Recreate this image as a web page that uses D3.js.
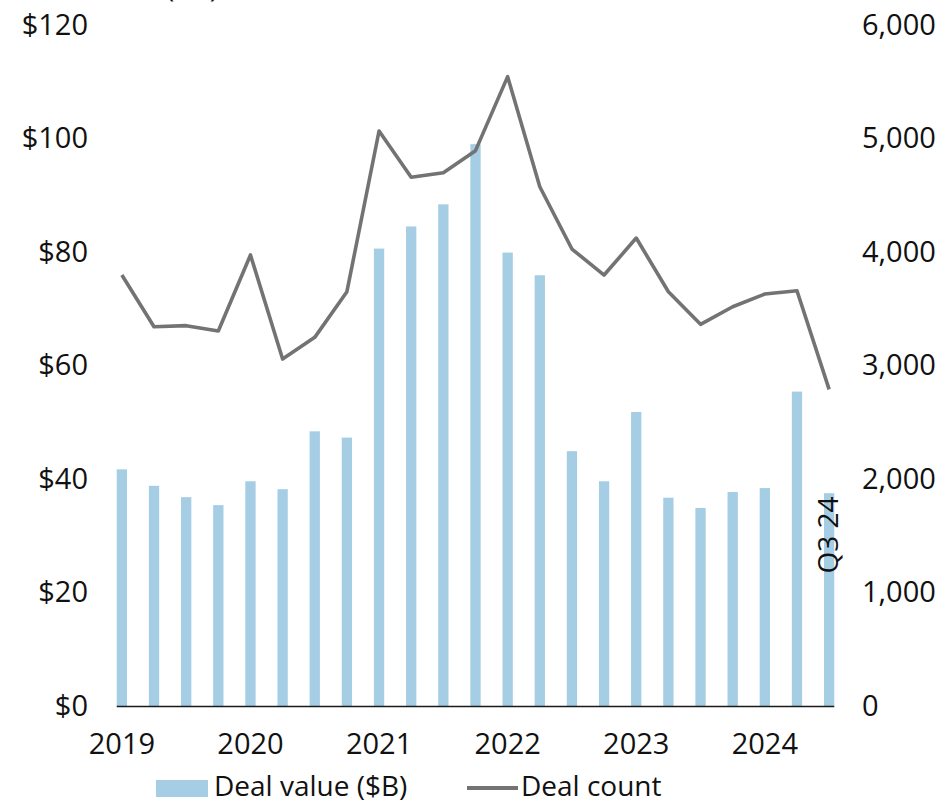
<!DOCTYPE html>
<html>
<head>
<meta charset="utf-8">
<script src="https://cdn.jsdelivr.net/npm/d3@7"></script>
<style>
  html, body { margin: 0; padding: 0; background: #fff; }
  svg { display: block; font-family: "Open Sans", "Noto Sans", sans-serif; }
</style>
</head>
<body>
<svg id="chart" width="947" height="803"></svg>
<script>
const quarters = ["2019Q1","2019Q2","2019Q3","2019Q4","2020Q1","2020Q2","2020Q3","2020Q4",
  "2021Q1","2021Q2","2021Q3","2021Q4","2022Q1","2022Q2","2022Q3","2022Q4",
  "2023Q1","2023Q2","2023Q3","2023Q4","2024Q1","2024Q2","2024Q3"];
const dealValue = [41.7, 38.8, 36.8, 35.4, 39.6, 38.2, 48.4, 47.3,
  80.6, 84.5, 88.4, 99.0, 79.9, 75.9, 44.9, 39.6,
  51.8, 36.7, 34.9, 37.7, 38.4, 55.4, 37.5];
const dealCount = [3797, 3342, 3351, 3304, 3974, 3057, 3248, 3650,
  5066, 4658, 4699, 4893, 5545, 4575, 4026, 3797,
  4123, 3650, 3363, 3518, 3630, 3659, 2790];
const leftTicks = [0, 20, 40, 60, 80, 100, 120];
const rightTicks = [0, 1000, 2000, 3000, 4000, 5000, 6000];
const yearTicks = ["2019Q1","2020Q1","2021Q1","2022Q1","2023Q1","2024Q1"];
const seriesNames = ["Deal value ($B)", "Deal count"];
const lastLabel = "Q3 24";

const svg = d3.select("#chart");
const barColor = "#a5cde4";
const lineColor = "#737373";
const textColor = "#111";
const fontSize = 29;

const x = d3.scaleBand().domain(quarters).range([105.8, 845.2])
  .paddingInner(0.68).paddingOuter(0.34);
const yL = d3.scaleLinear().domain([0, 120]).range([706, 25]);
const yR = d3.scaleLinear().domain([0, 6000]).range([706, 25]);

// cut-off title at top (only its lowest part shows, as in the reference)
svg.append("text").attr("x", 18).attr("y", -3)
  .attr("font-size", fontSize).attr("fill", textColor).text("Deal value ($B)");

// bars
svg.append("g").selectAll("rect").data(quarters).join("rect")
  .attr("x", d => x(d))
  .attr("width", x.bandwidth())
  .attr("y", (d, i) => yL(dealValue[i]))
  .attr("height", (d, i) => yL(0) - yL(dealValue[i]))
  .attr("fill", barColor);

// baseline
svg.append("line")
  .attr("x1", x(quarters[0])).attr("x2", x(quarters[quarters.length - 1]) + x.bandwidth())
  .attr("y1", yL(0) + 0.5).attr("y2", yL(0) + 0.5)
  .attr("stroke", "#1a1a1a").attr("stroke-width", 1.6);

// line
const line = d3.line()
  .x((d, i) => x(quarters[i]) + x.bandwidth() / 2)
  .y(d => yR(d));
svg.append("path").datum(dealCount)
  .attr("d", line).attr("fill", "none")
  .attr("stroke", lineColor).attr("stroke-width", 3.6)
  .attr("stroke-linejoin", "round");

// left axis
const axL = svg.append("g").attr("transform", "translate(116,0)")
  .call(d3.axisLeft(yL).tickValues(leftTicks).tickSize(0).tickPadding(28)
    .tickFormat(d => "$" + d));
// right axis
const axR = svg.append("g").attr("transform", "translate(834,0)")
  .call(d3.axisRight(yR).tickValues(rightTicks).tickSize(0).tickPadding(28)
    .tickFormat(d3.format(",")));
// bottom axis
const axB = svg.append("g").attr("transform", "translate(0,706)")
  .call(d3.axisBottom(x).tickValues(yearTicks).tickSize(0).tickPadding(27)
    .tickFormat(d => d.slice(0, 4)));

[axL, axR, axB].forEach(g => {
  g.select(".domain").remove();
  g.selectAll("text").attr("font-size", fontSize).attr("fill", textColor)
    .attr("font-family", "'Open Sans', 'Noto Sans', sans-serif");
});

// rotated label on last bar
const lastQ = quarters[quarters.length - 1];
svg.append("text")
  .attr("transform", `translate(${x(lastQ) + x.bandwidth() / 2 + 9},535) rotate(-90)`)
  .attr("text-anchor", "middle")
  .attr("font-size", 28).attr("fill", textColor).text(lastLabel);

// legend
const lg = svg.append("g");
lg.append("rect").attr("x", 156).attr("y", 780).attr("width", 52).attr("height", 17)
  .attr("fill", barColor);
lg.append("text").attr("x", 214).attr("y", 796).attr("font-size", 28)
  .attr("fill", textColor).text(seriesNames[0]);
lg.append("line").attr("x1", 467).attr("x2", 518).attr("y1", 788).attr("y2", 788)
  .attr("stroke", lineColor).attr("stroke-width", 4);
lg.append("text").attr("x", 521).attr("y", 796).attr("font-size", 28)
  .attr("fill", textColor).text(seriesNames[1]);
</script>
</body>
</html>
